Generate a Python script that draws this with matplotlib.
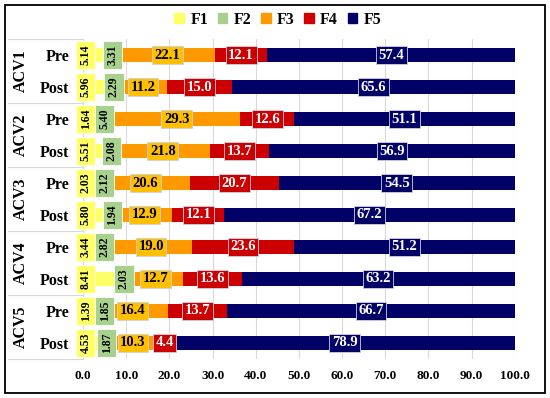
import numpy as np
import matplotlib
matplotlib.use("Agg")
import matplotlib.pyplot as plt
from matplotlib.patches import Rectangle, Patch
from matplotlib.lines import Line2D

plt.rcParams["font.family"] = ["Liberation Serif", "DejaVu Serif"]
plt.rcParams["font.weight"] = "bold"

# ---------------------------------------------------------------- 数据
groups = ["ACV1", "ACV2", "ACV3", "ACV4", "ACV5"]
phases = ["Pre", "Post"]
series = ["F1", "F2", "F3", "F4", "F5"]

f1 = [5.14, 5.96, 1.64, 5.51, 2.03, 5.80, 3.44, 8.41, 1.39, 4.53]
f2 = [3.31, 2.29, 5.40, 2.08, 2.12, 1.94, 2.82, 2.03, 1.85, 1.87]
f3 = [22.1, 11.2, 29.3, 21.8, 20.6, 12.9, 19.0, 12.7, 16.4, 10.3]
f4 = [12.1, 15.0, 12.6, 13.7, 20.7, 12.1, 23.6, 13.6, 13.7, 4.4]
f5 = [57.4, 65.6, 51.1, 56.9, 54.5, 67.2, 51.2, 63.2, 66.7, 78.9]

bar_colors = ["#FFFF66", "#A9D18E", "#FF9900", "#CC0000", "#000066"]
box_colors = ["#FFFF66", "#A9D18E", "#FFC000", "#CC0000", "#000066"]
text_colors = ["black", "black", "black", "white", "white"]

# ---------------------------------------------------------------- 图
fig = plt.figure(figsize=(5.5, 3.98), dpi=100)
ax = fig.add_axes([0.151, 0.098, 0.785, 0.804])

data = np.array([f1, f2, f3, f4, f5])
n = data.shape[1]
y = np.arange(n)
left = np.zeros(n)
for k in range(len(series)):
    ax.barh(y, data[k], left=left, height=0.42, color=bar_colors[k],
            zorder=2, label=series[k])
    for i in range(n):
        v = data[k, i]
        if k == 0:
            x = 0.6                         # F1 标签靠左
        elif k == 1:
            x = max(left[i] + v / 2, 5.0)   # F2 标签避开 F1
        else:
            x = left[i] + v / 2
        if k < 2:
            ax.text(x, i, f"{v:.2f}", rotation=90, ha="center", va="center",
                    fontsize=8.5, color=text_colors[k], zorder=4,
                    bbox=dict(boxstyle="square,pad=0.32", fc=box_colors[k],
                              ec="white", lw=0.6), clip_on=False)
        else:
            ax.text(x, i, f"{v:.1f}", ha="center", va="center",
                    fontsize=10.5, color=text_colors[k], zorder=4,
                    bbox=dict(boxstyle="square,pad=0.18", fc=box_colors[k],
                              ec="#d0d0e0", lw=0.6), clip_on=False)
    left = left + data[k]

ax.set_xlim(0, 100)
ax.set_ylim(n - 0.5, -0.5)
ax.set_xticks(np.arange(0, 101, 10))
ax.set_xticklabels([f"{t:.1f}" for t in np.arange(0, 101, 10)], fontsize=9.5)
ax.tick_params(axis="x", length=0, pad=8)
ax.set_yticks(y)
ax.set_yticklabels([phases[i % 2] for i in y], fontsize=11.5)
ax.tick_params(axis="y", length=0, pad=10)
ax.grid(axis="x", color="#d9d9d9", lw=0.8, zorder=0)
for s in ax.spines.values():
    s.set_visible(False)

# 分组标签与分隔线
trans = ax.get_yaxis_transform()
for g, name in enumerate(groups):
    ax.text(-0.143, 2 * g + 0.5, name, transform=trans, rotation=90,
            ha="center", va="center", fontsize=11.5)
for b in range(len(groups) + 1):
    ax.add_line(Line2D([-0.174, 0], [2 * b - 0.5, 2 * b - 0.5], transform=trans,
                       color="#d9d9d9", lw=0.8, clip_on=False))

# 图例
handles = [Patch(color=c, label=s) for c, s in zip(bar_colors, series)]
fig.legend(handles=handles, loc="center", bbox_to_anchor=(0.505, 0.95), ncol=5,
           frameon=False, fontsize=11.5, handlelength=0.6, handleheight=0.6,
           columnspacing=0.6, handletextpad=0.4)

# 外框
fig.patches.append(Rectangle((0.009, 0.013), 0.982, 0.975, transform=fig.transFigure,
                             fill=False, ec="black", lw=1.3))

fig.savefig("out.png", dpi=100)
